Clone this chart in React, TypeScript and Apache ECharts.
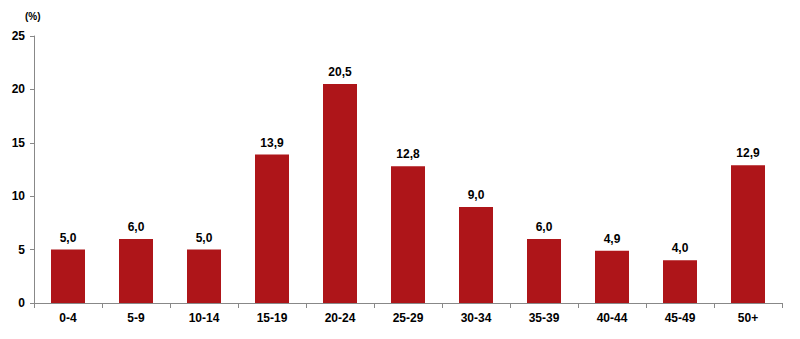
import React, { useEffect, useRef } from "react";
import * as echarts from "echarts";

const categories = ["0-4", "5-9", "10-14", "15-19", "20-24", "25-29", "30-34", "35-39", "40-44", "45-49", "50+"];
const values = [5.0, 6.0, 5.0, 13.9, 20.5, 12.8, 9.0, 6.0, 4.9, 4.0, 12.9];
const yTicks = [0, 5, 10, 15, 20, 25];
const unitLabel = "(%)";

export default function App() {
  const ref = useRef<HTMLDivElement>(null);
  useEffect(() => {
    if (!ref.current) return;
    const chart = echarts.init(ref.current, undefined, { renderer: "svg" });
    const font = "Liberation Sans, Arial, sans-serif";
    chart.setOption({
      animation: false,
      backgroundColor: "#ffffff",
      grid: { left: 26, right: 10, top: 28, bottom: 28, containLabel: false },
      graphic: [
        {
          type: "text",
          left: 17,
          top: 3,
          style: { text: unitLabel, font: `bold 10px ${font}`, fill: "#000" },
        },
      ],
      xAxis: {
        type: "category",
        data: categories,
        axisLine: { lineStyle: { color: "#888", width: 1 } },
        axisTick: { show: true, alignWithLabel: false, length: 5, lineStyle: { color: "#888" } },
        axisLabel: { color: "#000", fontWeight: "bold", fontSize: 12, fontFamily: font, margin: 9 },
      },
      yAxis: {
        type: "value",
        min: yTicks[0],
        max: yTicks[yTicks.length - 1],
        interval: 5,
        axisLine: { show: true, lineStyle: { color: "#888", width: 1 } },
        axisTick: { show: true, length: 4, lineStyle: { color: "#888" } },
        splitLine: { show: false },
        axisLabel: { color: "#000", fontWeight: "bold", fontSize: 12, fontFamily: font, margin: 9 },
      },
      series: [
        {
          type: "bar",
          data: values,
          barWidth: "50%",
          itemStyle: { color: "#AE1519" },
          label: {
            show: true,
            position: "top",
            distance: 6,
            color: "#000",
            fontWeight: "bold",
            fontSize: 12,
            fontFamily: font,
            formatter: (p: any) => p.value.toFixed(1).replace(".", ","),
          },
        },
      ],
    });
    return () => chart.dispose();
  }, []);
  return <div ref={ref} style={{ width: 784, height: 323 }} />;
}
